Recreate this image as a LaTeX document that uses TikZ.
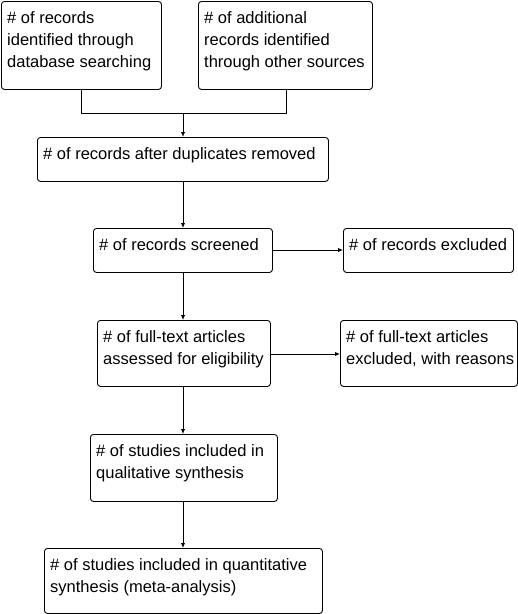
\documentclass[tikz,border=0pt]{standalone}
\usepackage{fontspec}
\setmainfont{Liberation Sans}
\usetikzlibrary{arrows.meta}
\tikzset{
  boxshape/.style={draw=black, line width=0.9pt, rounded corners=3pt, fill=white, inner sep=0pt},
  boxtext/.style={anchor=north west, align=left, inner sep=0pt, font=\fontsize{16.5}{22}\selectfont},
  conn/.style={draw=black, line width=1pt},
  arr/.style={conn, -{Latex[length=5pt,width=4.5pt]}}
}
\newcommand{\mybox}[6]{%
  \node[boxshape, anchor=north west, minimum width=#4-#2, minimum height=#5-#3] (#1) at (#2,#3) {};
  \node[boxtext] (#1-t) at (#2+6,#3+10.5) {#6};
}
\begin{document}
\begin{tikzpicture}[x=1pt,y=-1pt]
\useasboundingbox (0,0) rectangle (518,614);
\fill[white] (0,0) rectangle (518,614);
\mybox{a}{1}{1}{161}{89}{\# of records\\identified through\\database searching}
\mybox{b}{198}{1}{372}{89}{\# of additional\\records identified\\through other sources}
\mybox{c}{37}{137}{328}{181}{\# of records after duplicates removed}
\mybox{d}{93}{228}{272}{272}{\# of records screened}
\mybox{e}{343}{228}{513}{272}{\# of records excluded}
\mybox{f}{97}{320}{270}{386}{\# of full-text articles\\assessed for eligibility}
\mybox{g}{340}{320}{517}{386}{\# of full-text articles\\excluded, with reasons}
\mybox{h}{90}{434}{277}{501}{\# of studies included in\\qualitative synthesis}
\mybox{i}{44}{548}{322}{613}{\# of studies included in quantitative\\synthesis (meta-analysis)}
\coordinate (ja) at (81,113);
\coordinate (jb) at (286,113);
\coordinate (jm) at (183,113);
\draw[conn] (a.south -| ja) -- (ja) -- (jb) -- (b.south -| jb);
\draw[arr] (jm) -- (c.north -| jm);
\draw[arr] (c.south -| jm) -- (d.north -| jm);
\draw[arr] (d.south -| jm) -- (f.north -| jm);
\draw[arr] (f.south -| jm) -- (h.north -| jm);
\draw[arr] (h.south -| jm) -- (i.north -| jm);
\coordinate (de) at (273,250);
\draw[arr] (de) -- (e.west |- de);
\draw[arr] (f.east |- 0,354) -- (g.west |- 0,354);
\end{tikzpicture}
\end{document}
